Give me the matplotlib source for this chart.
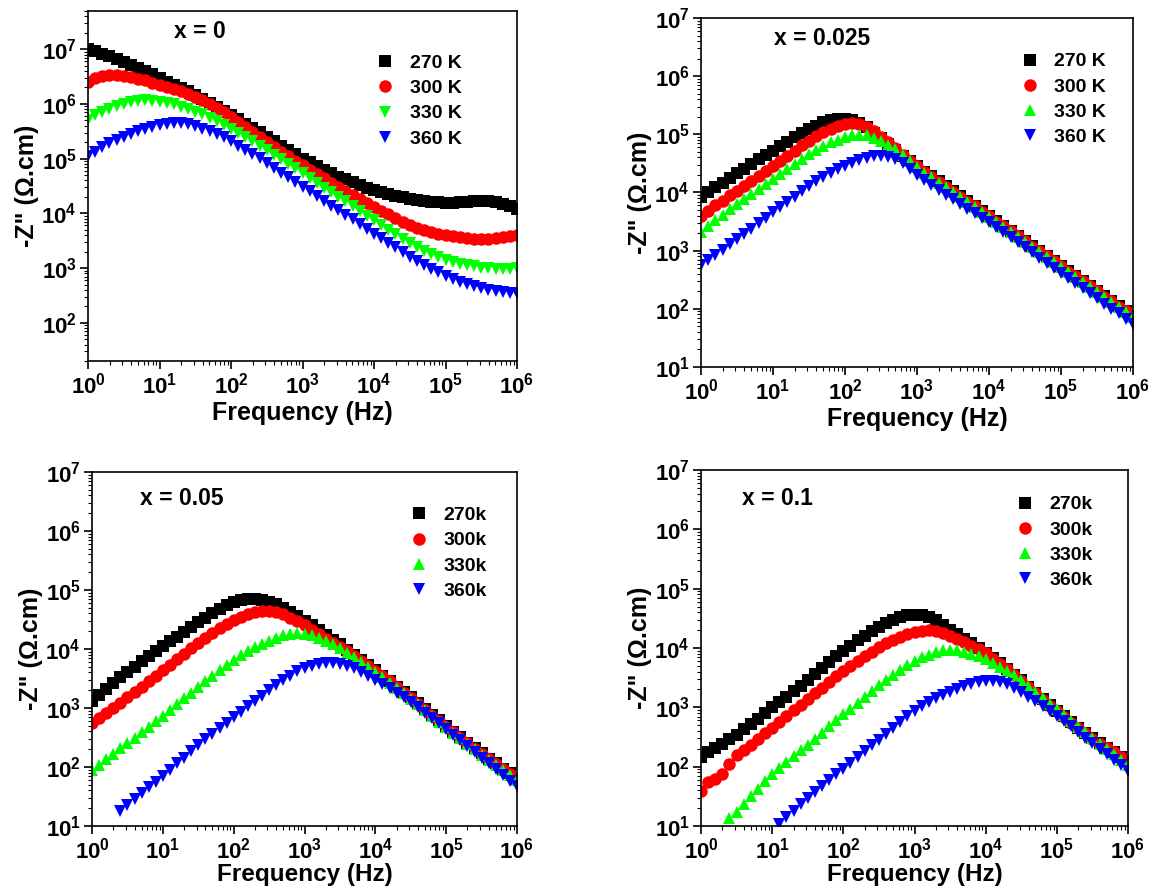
import numpy as np
import matplotlib
matplotlib.use("Agg")
from matplotlib import pyplot as plt
from matplotlib.ticker import LogLocator, LogFormatterMathtext, NullFormatter, FixedLocator

plt.rcParams['font.family'] = ['Liberation Sans', 'DejaVu Sans']
plt.rcParams['font.weight'] = 'bold'
plt.rcParams['mathtext.fontset'] = 'custom'
plt.rcParams['mathtext.rm'] = 'Liberation Sans:bold'
plt.rcParams['mathtext.it'] = 'Liberation Sans:bold'
plt.rcParams['mathtext.bf'] = 'Liberation Sans:bold'
plt.rcParams['mathtext.default'] = 'rm'

# measured frequencies, 10 points per decade from 1 Hz to 1 MHz
freq = np.logspace(0, 6, 61)

# log10(-Z''), one value per frequency (nan = no point)
nan = np.nan

# x = 0
p1_270 = [7.00, 6.96, 6.92, 6.88, 6.83, 6.77, 6.72, 6.66, 6.60, 6.54, 6.47,
          6.41, 6.35, 6.29, 6.23, 6.16, 6.09, 6.02, 5.95, 5.88, 5.80,
          5.72, 5.64, 5.56, 5.48, 5.40, 5.32, 5.24, 5.16, 5.08, 5.00,
          4.93, 4.86, 4.79, 4.73, 4.67, 4.62, 4.57, 4.52, 4.47, 4.43,
          4.39, 4.35, 4.32, 4.29, 4.26, 4.24, 4.22, 4.21, 4.20, 4.19,
          4.19, 4.20, 4.21, 4.22, 4.23, 4.23, 4.21, 4.18, 4.14, 4.08]
p1_300 = [6.41, 6.47, 6.51, 6.53, 6.53, 6.51, 6.49, 6.46, 6.43, 6.39, 6.35,
          6.31, 6.27, 6.23, 6.18, 6.13, 6.07, 6.00, 5.93, 5.85, 5.76,
          5.67, 5.58, 5.49, 5.40, 5.31, 5.22, 5.13, 5.05, 4.96, 4.88,
          4.80, 4.72, 4.64, 4.56, 4.48, 4.41, 4.34, 4.26, 4.19, 4.12,
          4.05, 3.98, 3.91, 3.85, 3.79, 3.74, 3.70, 3.66, 3.63, 3.60,
          3.58, 3.56, 3.55, 3.54, 3.54, 3.54, 3.55, 3.56, 3.58, 3.60]
p1_330 = [5.71, 5.79, 5.86, 5.91, 5.96, 6.00, 6.03, 6.05, 6.07, 6.06, 6.04,
          6.02, 5.99, 5.95, 5.91, 5.86, 5.81, 5.75, 5.69, 5.62, 5.55,
          5.47, 5.39, 5.32, 5.24, 5.16, 5.07, 4.99, 4.90, 4.82, 4.73,
          4.64, 4.56, 4.47, 4.39, 4.30, 4.22, 4.13, 4.05, 3.96, 3.88,
          3.79, 3.70, 3.62, 3.53, 3.45, 3.38, 3.31, 3.25, 3.20, 3.15,
          3.11, 3.08, 3.05, 3.03, 3.01, 3.00, 2.99, 2.99, 2.99, 3.00]
p1_360 = [5.04, 5.13, 5.21, 5.28, 5.34, 5.40, 5.45, 5.50, 5.54, 5.58, 5.62,
          5.64, 5.65, 5.65, 5.63, 5.59, 5.55, 5.50, 5.45, 5.39, 5.32,
          5.24, 5.16, 5.09, 5.01, 4.92, 4.83, 4.74, 4.66, 4.57, 4.48,
          4.40, 4.31, 4.23, 4.14, 4.06, 3.97, 3.89, 3.80, 3.72, 3.63,
          3.55, 3.46, 3.38, 3.29, 3.21, 3.13, 3.06, 2.99, 2.92, 2.85,
          2.80, 2.75, 2.71, 2.67, 2.63, 2.60, 2.58, 2.56, 2.55, 2.54]

# x = 0.025
p2_270 = [3.93, 4.01, 4.09, 4.17, 4.25, 4.33, 4.41, 4.49, 4.57, 4.65, 4.72,
          4.80, 4.87, 4.95, 5.02, 5.09, 5.15, 5.21, 5.25, 5.27, 5.27,
          5.24, 5.19, 5.12, 5.03, 4.93, 4.83, 4.73, 4.63, 4.54, 4.45,
          4.36, 4.28, 4.19, 4.11, 4.02, 3.94, 3.85, 3.77, 3.68, 3.60,
          3.51, 3.43, 3.34, 3.26, 3.17, 3.08, 3.00, 2.91, 2.83, 2.74,
          2.65, 2.57, 2.48, 2.40, 2.31, 2.22, 2.14, 2.05, 1.97, 1.88]
p2_300 = [3.60, 3.69, 3.78, 3.86, 3.95, 4.03, 4.12, 4.20, 4.28, 4.37, 4.45,
          4.54, 4.63, 4.72, 4.81, 4.89, 4.97, 5.04, 5.10, 5.15, 5.18,
          5.19, 5.17, 5.12, 5.05, 4.96, 4.86, 4.76, 4.65, 4.55, 4.45,
          4.35, 4.27, 4.18, 4.10, 4.01, 3.93, 3.84, 3.76, 3.67, 3.59,
          3.50, 3.42, 3.33, 3.25, 3.16, 3.07, 2.99, 2.90, 2.82, 2.73,
          2.64, 2.56, 2.47, 2.39, 2.30, 2.21, 2.13, 2.04, 1.96, 1.87]
p2_330 = [3.32, 3.42, 3.52, 3.62, 3.71, 3.80, 3.89, 3.98, 4.06, 4.15, 4.23,
          4.32, 4.41, 4.49, 4.58, 4.66, 4.73, 4.80, 4.86, 4.91, 4.95,
          4.98, 4.99, 4.98, 4.94, 4.89, 4.82, 4.74, 4.64, 4.54, 4.44,
          4.34, 4.26, 4.17, 4.09, 4.00, 3.92, 3.83, 3.75, 3.66, 3.58,
          3.49, 3.41, 3.32, 3.24, 3.15, 3.06, 2.98, 2.89, 2.81, 2.72,
          2.63, 2.55, 2.46, 2.38, 2.29, 2.20, 2.12, 2.03, 1.95, 1.86]
p2_360 = [2.75, 2.84, 2.93, 3.02, 3.11, 3.20, 3.29, 3.38, 3.47, 3.57, 3.66,
          3.75, 3.84, 3.93, 4.02, 4.11, 4.19, 4.27, 4.34, 4.40, 4.46,
          4.51, 4.56, 4.60, 4.62, 4.63, 4.61, 4.57, 4.50, 4.40, 4.30,
          4.21, 4.13, 4.04, 3.96, 3.88, 3.80, 3.72, 3.64, 3.57, 3.50,
          3.41, 3.32, 3.23, 3.15, 3.06, 2.97, 2.88, 2.79, 2.71, 2.62,
          2.53, 2.44, 2.36, 2.27, 2.18, 2.09, 2.00, 1.92, 1.83, 1.74]

# x = 0.05
p3_270 = [3.12, 3.22, 3.32, 3.42, 3.52, 3.61, 3.70, 3.79, 3.88, 3.97, 4.05,
          4.13, 4.21, 4.29, 4.37, 4.45, 4.53, 4.61, 4.68, 4.74, 4.79,
          4.83, 4.85, 4.85, 4.83, 4.80, 4.76, 4.70, 4.63, 4.56, 4.48,
          4.40, 4.32, 4.24, 4.16, 4.08, 3.99, 3.90, 3.82, 3.73, 3.64,
          3.55, 3.46, 3.36, 3.27, 3.18, 3.08, 2.98, 2.88, 2.79, 2.69,
          2.60, 2.51, 2.41, 2.32, 2.23, 2.14, 2.06, 1.97, 1.89, 1.80]
p3_300 = [2.75, 2.83, 2.92, 3.00, 3.09, 3.18, 3.27, 3.36, 3.45, 3.55, 3.64,
          3.73, 3.83, 3.92, 4.01, 4.10, 4.19, 4.27, 4.35, 4.43, 4.50,
          4.55, 4.60, 4.63, 4.65, 4.65, 4.63, 4.59, 4.53, 4.47, 4.40,
          4.33, 4.25, 4.17, 4.10, 4.03, 3.96, 3.88, 3.80, 3.72, 3.63,
          3.54, 3.45, 3.35, 3.26, 3.17, 3.07, 2.97, 2.87, 2.78, 2.68,
          2.59, 2.50, 2.40, 2.31, 2.22, 2.13, 2.05, 1.96, 1.88, 1.79]
p3_330 = [1.95, 2.04, 2.13, 2.22, 2.32, 2.41, 2.50, 2.59, 2.68, 2.78, 2.87,
          2.97, 3.07, 3.17, 3.26, 3.36, 3.46, 3.55, 3.64, 3.73, 3.82,
          3.89, 3.96, 4.03, 4.09, 4.14, 4.19, 4.23, 4.26, 4.27, 4.26,
          4.23, 4.19, 4.14, 4.08, 4.01, 3.94, 3.86, 3.78, 3.70, 3.61,
          3.52, 3.43, 3.34, 3.25, 3.16, 3.06, 2.96, 2.86, 2.77, 2.67,
          2.58, 2.49, 2.39, 2.30, 2.21, 2.12, 2.04, 1.95, 1.87, 1.78]
p3_360 = [nan, nan, nan, nan, 1.25, 1.36, 1.46, 1.56, 1.66, 1.75, 1.85,
          1.95, 2.06, 2.16, 2.27, 2.37, 2.47, 2.56, 2.66, 2.75, 2.84,
          2.93, 3.03, 3.12, 3.21, 3.30, 3.39, 3.47, 3.55, 3.62, 3.68,
          3.72, 3.75, 3.76, 3.76, 3.74, 3.71, 3.67, 3.61, 3.55, 3.48,
          3.41, 3.34, 3.26, 3.18, 3.10, 3.01, 2.92, 2.83, 2.74, 2.64,
          2.55, 2.45, 2.35, 2.26, 2.16, 2.06, 1.97, 1.87, 1.77, 1.67]

# x = 0.1
p4_270 = [2.17, 2.24, 2.31, 2.38, 2.46, 2.54, 2.63, 2.72, 2.81, 2.90, 3.00,
          3.09, 3.18, 3.27, 3.36, 3.46, 3.56, 3.66, 3.76, 3.86, 3.95,
          4.04, 4.13, 4.21, 4.29, 4.36, 4.42, 4.47, 4.52, 4.55, 4.56,
          4.55, 4.52, 4.47, 4.39, 4.30, 4.23, 4.16, 4.08, 4.00, 3.92,
          3.83, 3.74, 3.65, 3.55, 3.46, 3.35, 3.25, 3.14, 3.04, 2.94,
          2.85, 2.75, 2.66, 2.57, 2.48, 2.40, 2.32, 2.25, 2.17, 2.10]
p4_300 = [1.59, 1.75, 1.79, 1.88, 2.05, 2.19, 2.28, 2.37, 2.46, 2.56, 2.65,
          2.75, 2.85, 2.95, 3.04, 3.14, 3.24, 3.33, 3.43, 3.52, 3.61,
          3.70, 3.78, 3.86, 3.94, 4.01, 4.08, 4.14, 4.19, 4.24, 4.27,
          4.29, 4.30, 4.29, 4.26, 4.21, 4.16, 4.10, 4.04, 3.98, 3.91,
          3.82, 3.73, 3.64, 3.54, 3.45, 3.34, 3.24, 3.13, 3.03, 2.93,
          2.84, 2.74, 2.65, 2.56, 2.47, 2.39, 2.31, 2.24, 2.16, 2.09]
p4_330 = [nan, nan, nan, nan, 1.13, 1.24, 1.37, 1.50, 1.63, 1.76, 1.88,
          1.98, 2.08, 2.18, 2.28, 2.37, 2.47, 2.57, 2.68, 2.78, 2.88,
          2.98, 3.08, 3.18, 3.28, 3.37, 3.46, 3.55, 3.63, 3.71, 3.78,
          3.84, 3.89, 3.93, 3.96, 3.97, 3.96, 3.94, 3.90, 3.86, 3.81,
          3.75, 3.68, 3.61, 3.54, 3.46, 3.36, 3.26, 3.16, 3.06, 2.97,
          2.87, 2.77, 2.67, 2.58, 2.48, 2.39, 2.30, 2.21, 2.11, 2.02]
p4_360 = [nan, nan, nan, nan, nan, nan, nan, nan, nan, nan, nan,
          1.04, 1.15, 1.26, 1.37, 1.47, 1.57, 1.67, 1.77, 1.87, 1.96,
          2.06, 2.16, 2.26, 2.36, 2.45, 2.55, 2.65, 2.75, 2.85, 2.94,
          3.02, 3.09, 3.15, 3.21, 3.26, 3.31, 3.36, 3.40, 3.43, 3.45,
          3.45, 3.43, 3.39, 3.33, 3.26, 3.18, 3.10, 3.02, 2.94, 2.86,
          2.77, 2.68, 2.58, 2.49, 2.40, 2.30, 2.21, 2.12, 2.02, 1.93]

titles = ['x = 0', 'x = 0.025', 'x = 0.05', 'x = 0.1']
labels_K = ['270 K', '300 K', '330 K', '360 K']
labels_k = ['270k', '300k', '330k', '360k']
colors = ['black', 'red', '#00ff00', 'blue']
xticks = [1e0, 1e1, 1e2, 1e3, 1e4, 1e5, 1e6]
yticks_p1 = [1e2, 1e3, 1e4, 1e5, 1e6, 1e7]
yticks = [1e1, 1e2, 1e3, 1e4, 1e5, 1e6, 1e7]

panels = [
    dict(data=[p1_270, p1_300, p1_330, p1_360], marks=['s', 'o', 'v', 'v'],
         labels=labels_K, ylim=(20, 5e7), yt=yticks_p1, rect=[88, 11, 517, 361],
         title_xy=(0.26, 0.94), leg_xy=(0.648, 0.904), xpad=2, xsize=18),
    dict(data=[p2_270, p2_300, p2_330, p2_360], marks=['s', 'o', '^', 'v'],
         labels=labels_K, ylim=(10, 1e7), yt=yticks, rect=[701, 18, 1133, 367],
         title_xy=(0.28, 0.94), leg_xy=(0.716, 0.928), xpad=2, xsize=18),
    dict(data=[p3_270, p3_300, p3_330, p3_360], marks=['s', 'o', '^', 'v'],
         labels=labels_k, ylim=(10, 1e7), yt=yticks, rect=[92, 472, 517, 826],
         title_xy=(0.21, 0.925), leg_xy=(0.724, 0.93), xpad=0, xsize=17.5),
    dict(data=[p4_270, p4_300, p4_330, p4_360], marks=['s', 'o', '^', 'v'],
         labels=labels_k, ylim=(10, 1e7), yt=yticks, rect=[701, 470, 1128, 826],
         title_xy=(0.18, 0.92), leg_xy=(0.714, 0.955), xpad=0, xsize=17.5),
]

W, H = 1153, 888
fig = plt.figure(figsize=(W / 100, H / 100), dpi=100)

for i, p in enumerate(panels):
    l, t, r, b = p['rect']
    ax = fig.add_axes([l / W, 1 - b / H, (r - l) / W, (b - t) / H])
    for vals, m, c, lab in zip(p['data'], p['marks'], colors, p['labels']):
        ax.plot(freq, 10 ** np.array(vals), linestyle='none', marker=m,
                color=c, markersize=9, markeredgewidth=0, label=lab)
    ax.set_xscale('log')
    ax.set_yscale('log')
    ax.set_xlim(1, 1e6)
    ax.set_ylim(*p['ylim'])
    ax.xaxis.set_major_locator(FixedLocator(xticks))
    ax.yaxis.set_major_locator(FixedLocator(p['yt']))
    for axis in (ax.xaxis, ax.yaxis):
        axis.set_minor_locator(LogLocator(base=10, subs=np.arange(2, 10), numticks=100))
        axis.set_major_formatter(LogFormatterMathtext())
        axis.set_minor_formatter(NullFormatter())
    ax.tick_params(which='major', direction='out', length=6, width=1.2,
                   labelsize=16, pad=2, top=False, right=False)
    ax.tick_params(which='minor', direction='out', length=3, width=0.8,
                   top=False, right=False)
    for s in ax.spines.values():
        s.set_linewidth(1.2)
    ax.set_xlabel('Frequency (Hz)', fontsize=p['xsize'], fontweight='bold',
                  labelpad=p['xpad'])
    ax.set_ylabel('-Z" (Ω.cm)', fontsize=18, fontweight='bold', labelpad=2)
    ax.text(p['title_xy'][0], p['title_xy'][1], titles[i], transform=ax.transAxes,
            ha='center', va='center', fontsize=16.5, fontweight='bold')
    ax.legend(loc='upper left', bbox_to_anchor=p['leg_xy'], frameon=False,
              fontsize=14, handlelength=1.0, handletextpad=0.75,
              labelspacing=0.39, borderpad=0, markerscale=1.0)

fig.savefig('out.png', dpi=100)
